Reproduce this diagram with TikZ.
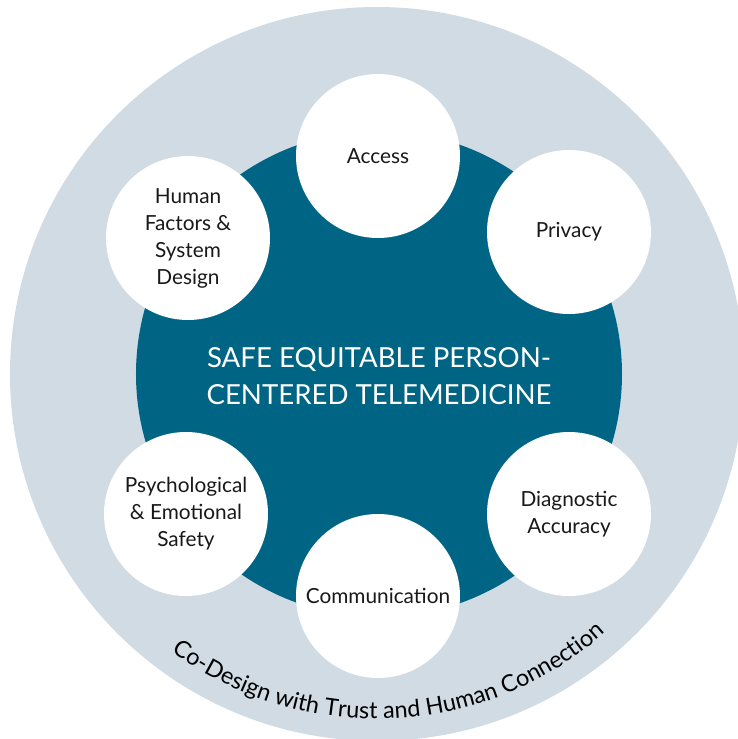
\documentclass[tikz,border=0pt]{standalone}
\usepackage{fontspec}
\setmainfont{Lato}
\usepackage{xcolor}
\usetikzlibrary{decorations.text}
\definecolor{ringgray}{RGB}{208,219,228}
\definecolor{coreteal}{RGB}{0,101,133}

\begin{document}
\begin{tikzpicture}[x=1pt, y=1pt,
    ring/.style={
        circle,
        fill=ringgray,
        minimum size=734pt,
        inner sep=0pt
    },
    core/.style={
        circle,
        fill=coreteal,
        minimum size=486pt,
        inner sep=0pt
    },
    pillar/.style={
        circle,
        fill=white,
        minimum size=164pt,
        inner sep=0pt,
        align=center,
        text=black!90,
        font=\fontsize{20.8}{27}\selectfont
    },
    goal/.style={
        align=center,
        text=white,
        font=\fontsize{27.6}{37}\selectfont
    }
]
\useasboundingbox (-377,-365) rectangle (361,374);

% ===== background rings =====
\node[ring] (outer) at (0,0) {};
\node[core] (inner) at (2,0) {};
\node[goal] (title) at (2,-2) {SAFE EQUITABLE PERSON-\\CENTERED TELEMEDICINE};

% ===== pillars =====
\node[pillar] (access) at (1,218) {Access};
\node[pillar] (privacy) at (192,142) {Privacy};
\node[pillar] (human) at (-189,136) {Human\\Factors \&\\System\\Design};
\node[pillar] (diag) at (192,-140) {Diagnostic\\Accuracy};
\node[pillar] (psych) at (-191,-140) {Psychological\\\& Emotional\\Safety};
\node[pillar] (comm) at (1,-222) {Communication};

% ===== co-design label along the ring =====
\path[decorate, decoration={text along path, text align=center,
    text={|\fontsize{23.4}{24}\selectfont|Co-Design with Trust and Human Connection}}]
    (222:345) arc[start angle=222, end angle=323, radius=345];

\end{tikzpicture}
\end{document}
